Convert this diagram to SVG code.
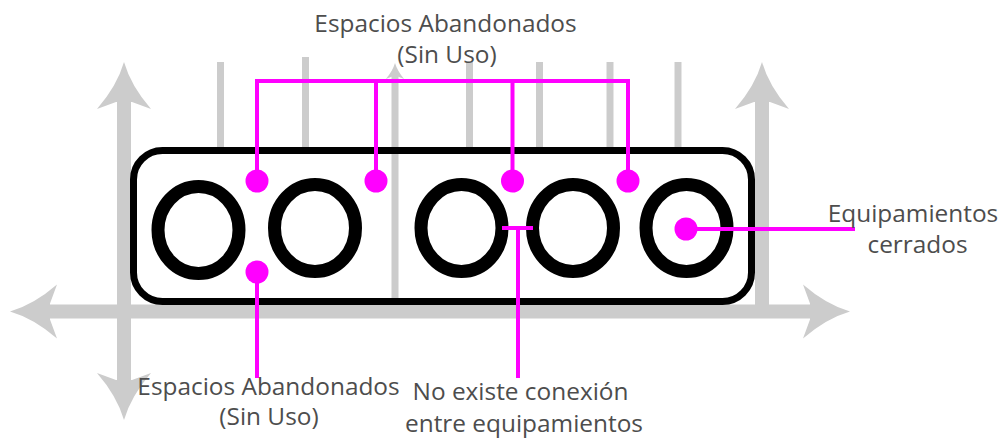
<svg xmlns="http://www.w3.org/2000/svg" xmlns:xlink="http://www.w3.org/1999/xlink" width="1008" height="443" viewBox="0 0 1008 443">
<style>
.axis{stroke:#cccccc;stroke-width:14;fill:none}
.grid{stroke:#cccccc;stroke-width:7;fill:none}
.head{fill:#cccccc}
.ring{fill:none;stroke:#000;stroke-width:13}
.frame{fill:none;stroke:#000;stroke-width:7}
.link{stroke:#ff00ff;stroke-width:4;fill:none}
.dot{fill:#ff00ff}
.lbl{font-family:"Open Sans","Noto Sans",sans-serif;font-size:24.4px;fill:#4d4d4d;text-anchor:middle}
</style>
<defs>
<path id="head" d="M0,0 Q-24,-7 -47,-27 L-40,-8 L-40,8 L-47,27 Q-24,7 0,0 Z"/>
</defs>
<rect width="1008" height="443" fill="#ffffff"/>
<g id="axes">
<line class="axis" x1="124" y1="95" x2="124" y2="390"/>
<line class="axis" x1="45" y1="311.5" x2="815" y2="311.5"/>
<line class="axis" x1="762" y1="95" x2="762" y2="311.5"/>
<line class="grid" x1="395" y1="72" x2="395" y2="311.5"/>
<line class="grid" x1="220.5" y1="62" x2="220.5" y2="150"/>
<line class="grid" x1="305.5" y1="57" x2="305.5" y2="150"/>
<line class="grid" x1="469.5" y1="62" x2="469.5" y2="150"/>
<line class="grid" x1="539.5" y1="62" x2="539.5" y2="150"/>
<line class="grid" x1="610" y1="62" x2="610" y2="150"/>
<line class="grid" x1="678" y1="62" x2="678" y2="150"/>
<use xlink:href="#head" href="#head" class="head" transform="translate(124,62) rotate(-90)"/>
<use xlink:href="#head" href="#head" class="head" transform="translate(124,420) rotate(90)"/>
<use xlink:href="#head" href="#head" class="head" transform="translate(762,62) rotate(-90)"/>
<use xlink:href="#head" href="#head" class="head" transform="translate(10,311.5) rotate(180)"/>
<use xlink:href="#head" href="#head" class="head" transform="translate(850,311.5)"/>
<use xlink:href="#head" href="#head" class="head" transform="translate(395,63) rotate(-90) scale(0.34)"/>
</g>
<g id="container">
<rect class="frame" x="133.5" y="150.5" width="618" height="151" rx="29" ry="29"/>
</g>
<g id="equip1"><ellipse class="ring" cx="198.5" cy="230" rx="40.5" ry="43.5"/></g>
<g id="equip2"><ellipse class="ring" cx="315" cy="228" rx="40.5" ry="43.5"/></g>
<g id="equip3"><ellipse class="ring" cx="461.5" cy="228" rx="40.5" ry="43.5"/></g>
<g id="equip4"><ellipse class="ring" cx="573" cy="228" rx="40.5" ry="43.5"/></g>
<g id="equip5"><ellipse class="ring" cx="686.5" cy="228" rx="40.5" ry="43.5"/></g>
<g id="connectors">
<polyline class="link" points="257,181 257,81 628,81 628,181"/>
<line class="link" x1="376" y1="81" x2="376" y2="181"/>
<line class="link" x1="512.5" y1="81" x2="512.5" y2="181"/>
<line class="link" x1="257" y1="272" x2="257" y2="378"/>
<line class="link" x1="502" y1="228" x2="533" y2="228"/>
<line class="link" x1="518" y1="228" x2="518" y2="378"/>
<line class="link" x1="686" y1="229" x2="855" y2="229"/>
<circle class="dot" cx="257" cy="181" r="11.5"/>
<circle class="dot" cx="376" cy="181" r="11.5"/>
<circle class="dot" cx="512.5" cy="181" r="11.5"/>
<circle class="dot" cx="628" cy="181" r="11.5"/>
<circle class="dot" cx="257" cy="272" r="11.5"/>
<circle class="dot" cx="686" cy="229" r="11.5"/>
</g>
<g id="label-top">
<text class="lbl" x="445.5" y="32">Espacios Abandonados</text>
<text class="lbl" x="447" y="63">(Sin Uso)</text>
</g>
<g id="label-bottom-left">
<text class="lbl" x="268.5" y="395">Espacios Abandonados</text>
<text class="lbl" x="269" y="425">(Sin Uso)</text>
</g>
<g id="label-bottom-mid">
<text class="lbl" x="520.5" y="400">No existe conexión</text>
<text class="lbl" x="524" y="432">entre equipamientos</text>
</g>
<g id="label-right">
<text class="lbl" x="913" y="222">Equipamientos</text>
<text class="lbl" x="917.5" y="253">cerrados</text>
</g>
</svg>
